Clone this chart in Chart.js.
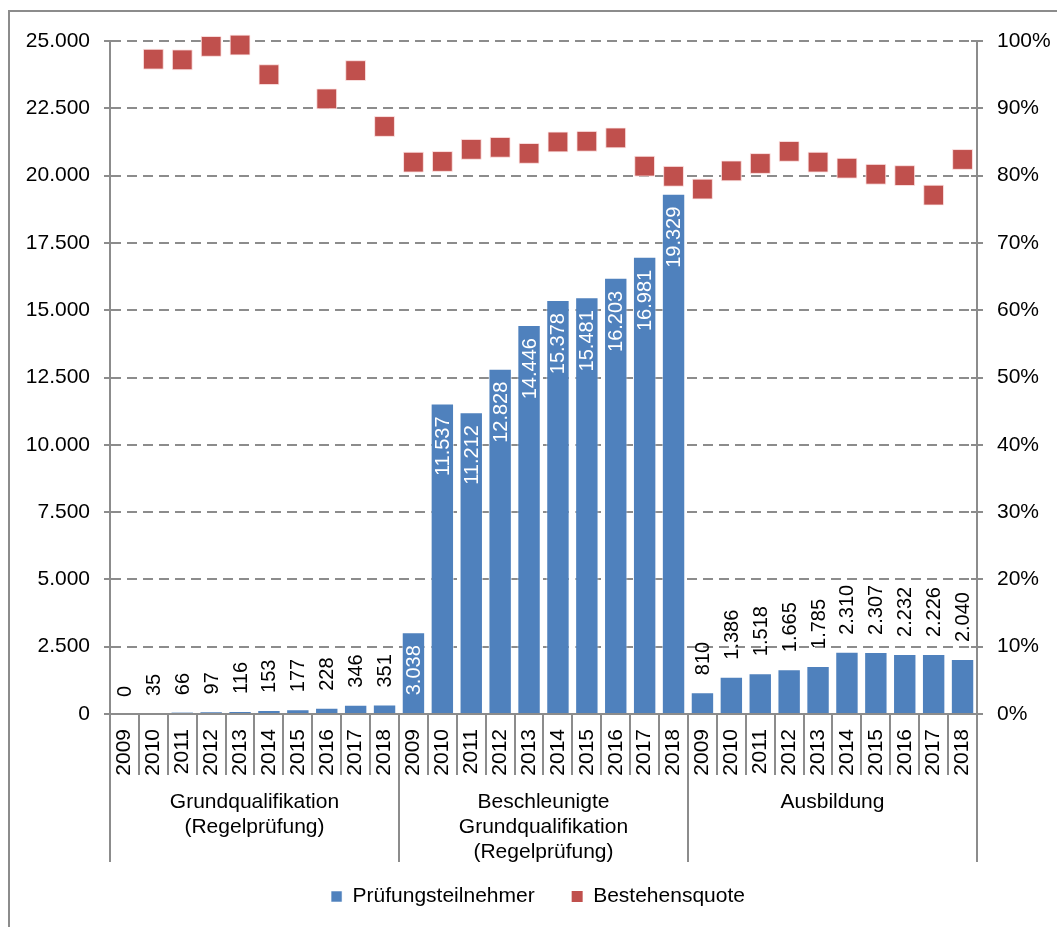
<!DOCTYPE html>
<html>
<head>
<meta charset="utf-8">
<script src="https://cdn.jsdelivr.net/npm/chart.js@4"></script>
<style>
html, body { margin: 0; padding: 0; background: #fff; }
#wrap { position: relative; width: 1057px; height: 927px; overflow: hidden; }
#rahmen { position: absolute; left: 8px; top: 10px; width: 1200px; height: 1000px; border-left: 2px solid #8c8c8c; border-top: 2px solid #8c8c8c; }
canvas { position: absolute; left: 0; top: 0; }
</style>
</head>
<body>
<div id="wrap">
  <div id="rahmen"></div>
  <canvas id="chart" width="1057" height="927"></canvas>
</div>
<script>
// Daten
const jahre = ['2009', '2010', '2011', '2012', '2013', '2014', '2015', '2016', '2017', '2018'];
const gruppen = [
    ['Grundqualifikation', '(Regelprüfung)'],
    ['Beschleunigte', 'Grundqualifikation', '(Regelprüfung)'],
    ['Ausbildung']
];
// Prüfungsteilnehmer je Gruppe
const teilnehmerGrund  = [0, 35, 66, 97, 116, 153, 177, 228, 346, 351];
const teilnehmerBeschl = [3038, 11537, 11212, 12828, 14446, 15378, 15481, 16203, 16981, 19329];
const teilnehmerAusb   = [810, 1386, 1518, 1665, 1785, 2310, 2307, 2232, 2226, 2040];
// Bestehensquote in % je Gruppe
const quoteGrund  = [null, 97.3, 97.2, 99.2, 99.4, 95.0, null, 91.4, 95.6, 87.3];
const quoteBeschl = [82.0, 82.1, 83.9, 84.2, 83.3, 85.0, 85.1, 85.6, 81.4, 79.9];
const quoteAusb   = [78.0, 80.7, 81.8, 83.6, 82.0, 81.1, 80.2, 80.0, 77.1, 82.4];
// Beschriftung innerhalb des Balkens?
const labelInnen = [false, true, false];

const labels = [...jahre, ...jahre, ...jahre];
const teilnehmer = [...teilnehmerGrund, ...teilnehmerBeschl, ...teilnehmerAusb];
const quote = [...quoteGrund, ...quoteBeschl, ...quoteAusb];

const grau = '#8c8c8c';
const schrift = '"Liberation Sans", Arial, sans-serif';

function formatZahl(v) {
    return String(v).replace(/\B(?=(\d{3})+(?!\d))/g, '.');
}

Chart.defaults.font.family = schrift;
Chart.defaults.font.size = 21;
Chart.defaults.color = '#000';

// Werte an den Balken (senkrecht)
const balkenWerte = {
    id: 'balkenWerte',
    afterDatasetsDraw(chart) {
        const ctx = chart.ctx;
        const meta = chart.getDatasetMeta(0);
        ctx.save();
        ctx.font = '20px ' + schrift;
        ctx.textBaseline = 'middle';
        meta.data.forEach((bar, i) => {
            const innen = labelInnen[Math.floor(i / jahre.length)];
            ctx.save();
            ctx.translate(bar.x, innen ? bar.y + 13 : bar.y - 17);
            ctx.rotate(-Math.PI / 2);
            ctx.fillStyle = innen ? '#fff' : '#000';
            ctx.textAlign = innen ? 'right' : 'left';
            ctx.fillText(formatZahl(teilnehmer[i]), 0, 1);
            ctx.restore();
        });
        ctx.restore();
    }
};

// Trennlinien, Gruppennamen und Achsenstriche
const achsenDeko = {
    id: 'achsenDeko',
    afterDraw(chart) {
        const ctx = chart.ctx;
        const x = chart.scales.x;
        const area = chart.chartArea;
        const breite = x.getPixelForValue(1) - x.getPixelForValue(0);
        ctx.save();
        ctx.strokeStyle = grau;
        ctx.lineWidth = 2;
        for (let i = 0; i <= labels.length; i++) {
            const px = Math.round(x.getPixelForValue(0) - breite / 2 + i * breite);
            const lang = i % jahre.length === 0;
            ctx.beginPath();
            ctx.moveTo(px, area.bottom);
            ctx.lineTo(px, area.bottom + (lang ? 148 : 61));
            ctx.stroke();
        }
        // Gruppennamen
        ctx.fillStyle = '#000';
        ctx.font = '21px ' + schrift;
        ctx.textAlign = 'center';
        ctx.textBaseline = 'middle';
        gruppen.forEach((zeilen, g) => {
            const mitte = (x.getPixelForValue(g * jahre.length) + x.getPixelForValue((g + 1) * jahre.length - 1)) / 2;
            zeilen.forEach((z, k) => ctx.fillText(z, mitte, area.bottom + 88 + k * 25));
        });
        // Kreuzende Striche an beiden y-Achsen
        ['y', 'y2'].forEach(id => {
            const s = chart.scales[id];
            const ax = id === 'y' ? area.left : area.right;
            s.ticks.forEach(t => {
                const py = Math.round(s.getPixelForValue(t.value));
                ctx.beginPath();
                ctx.moveTo(ax - 6, py);
                ctx.lineTo(ax + 6, py);
                ctx.stroke();
            });
        });
        ctx.restore();
    }
};

new Chart(document.getElementById('chart'), {
    type: 'bar',
    data: {
        labels: labels,
        datasets: [
            {
                label: 'Prüfungsteilnehmer',
                data: teilnehmer,
                backgroundColor: '#4F81BD',
                borderColor: 'rgba(255,255,255,0.55)',
                borderWidth: 1,
                barPercentage: 0.81,
                categoryPercentage: 1,
                yAxisID: 'y'
            },
            {
                type: 'line',
                label: 'Bestehensquote',
                data: quote,
                showLine: false,
                clip: false,
                backgroundColor: '#C0504D',
                borderColor: '#C0504D',
                borderWidth: 0,
                pointStyle: 'rect',
                pointRadius: 14,
                pointBackgroundColor: '#C0504D',
                pointBorderColor: 'rgba(255,235,235,0.8)',
                pointBorderWidth: 1,
                yAxisID: 'y2'
            }
        ]
    },
    options: {
        responsive: false,
        animation: false,
        layout: { padding: { left: 19, right: 0, top: 41, bottom: 10 } },
        plugins: {
            legend: {
                position: 'bottom',
                labels: { boxWidth: 11, boxHeight: 11, padding: 37, color: '#000', font: { size: 21 } }
            },
            tooltip: { enabled: false }
        },
        scales: {
            x: {
                offset: true,
                grid: { display: false },
                border: { display: true, color: grau, width: 2 },
                ticks: { minRotation: 90, maxRotation: 90, autoSkip: false, padding: 7, color: '#000' },
                afterFit: s => { s.height = 135; }
            },
            y: {
                position: 'left',
                min: 0,
                max: 25000,
                ticks: { stepSize: 2500, padding: 20, color: '#000', callback: v => formatZahl(v) },
                grid: { color: grau, lineWidth: 2, drawTicks: false },
                border: { display: true, color: grau, width: 2, dash: [10, 6] },
                afterFit: s => { s.width = 91; }
            },
            y2: {
                position: 'right',
                min: 0,
                max: 100,
                ticks: { stepSize: 10, padding: 20, color: '#000', callback: v => v + '%' },
                grid: { drawOnChartArea: false, drawTicks: false },
                border: { display: true, color: grau, width: 2 },
                afterFit: s => { s.width = 80; }
            }
        }
    },
    plugins: [balkenWerte, achsenDeko]
});
</script>
</body>
</html>
